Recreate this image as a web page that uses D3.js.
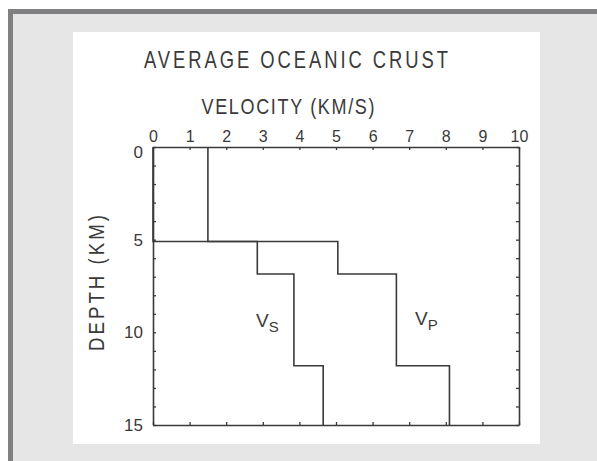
<!DOCTYPE html>
<html><head><meta charset="utf-8">
<script src="https://cdn.jsdelivr.net/npm/d3@7"></script>
<style>
html,body{margin:0;padding:0;background:#fff;}
svg{display:block;}
text{font-family:"Liberation Sans","DejaVu Sans",sans-serif;fill:#3a3a3a;}
</style></head>
<body>
<script>
// Data
const layerDepths = [0, 5.1, 6.85, 11.8, 15];      // km, layer boundaries
const vpValues = [1.5, 5.05, 6.65, 8.1];           // P-wave velocity (km/s)
const vsValues = [0, 2.85, 3.85, 4.65];            // S-wave velocity (km/s)
const velocityTicks = [0,1,2,3,4,5,6,7,8,9,10];
const depthTicks = d3.range(0, 16, 1);
const depthLabels = [0, 5, 10, 15];
const titleText = "AVERAGE OCEANIC CRUST";
const xLabelText = "VELOCITY (KM/S)";
const yLabelText = "DEPTH (KM)";

const W = 597, H = 461;
const svg = d3.select("body").append("svg").attr("width", W).attr("height", H);

// frame
svg.append("rect").attr("x",0).attr("y",0).attr("width",W).attr("height",H).attr("fill","#ffffff");
svg.append("rect").attr("x",8).attr("y",9).attr("width",W-8).attr("height",H-9).attr("fill","#808082");
svg.append("rect").attr("x",13).attr("y",14).attr("width",W-13).attr("height",H-14).attr("fill","#e5e6e5");
svg.append("rect").attr("x",73).attr("y",32).attr("width",467).attr("height",412).attr("fill","#ffffff");

const x = d3.scaleLinear().domain([0,10]).range([153,519]);
const y = d3.scaleLinear().domain([0,15]).range([147,425]);

const ink = "#3a3a3a";

// axes
const gTop = svg.append("g").attr("transform",`translate(0,${y(0)})`)
  .call(d3.axisTop(x).tickValues(velocityTicks).tickSizeInner(-3).tickSizeOuter(0).tickPadding(5).tickFormat(d3.format("d")));
const gBottom = svg.append("g").attr("transform",`translate(0,${y(15)})`)
  .call(d3.axisBottom(x).tickValues(velocityTicks).tickSizeInner(-3).tickSizeOuter(0).tickFormat(""));
const gLeft = svg.append("g").attr("transform",`translate(${x(0)},0)`)
  .call(d3.axisLeft(y).tickValues(depthTicks).tickSizeInner(-3).tickSizeOuter(0).tickPadding(10)
    .tickFormat(d => depthLabels.includes(d) ? d : ""));
const gRight = svg.append("g").attr("transform",`translate(${x(10)},0)`)
  .call(d3.axisRight(y).tickValues(depthTicks).tickSizeInner(-3).tickSizeOuter(0).tickFormat(""));

[gTop,gBottom,gLeft,gRight].forEach(g=>{
  g.selectAll("path.domain").attr("stroke",ink).attr("stroke-width",1.6);
  g.selectAll(".tick line").attr("stroke",ink).attr("stroke-width",1.3);
  g.selectAll(".tick text").attr("fill",ink).style("font-size","16px")
    .style("font-family",'"Liberation Sans","DejaVu Sans",sans-serif');
});
gLeft.selectAll(".tick text").style("font-size","17px");
gLeft.selectAll(".tick").filter(d=>d===0).select("text").attr("dy","0.6em");

// step profiles
function profile(vals){
  const pts = [];
  vals.forEach((v,i)=>{ pts.push([v, layerDepths[i]]); pts.push([v, layerDepths[i+1]]); });
  return pts;
}
const line = d3.line().x(d=>x(d[0])).y(d=>y(d[1]));
[vsValues, vpValues].forEach(vals=>{
  svg.append("path").attr("d", line(profile(vals)))
    .attr("fill","none").attr("stroke",ink).attr("stroke-width",1.6);
});

// labels (horizontally condensed lettering)
svg.append("text").attr("transform","translate(296,68) scale(0.8,1)").attr("text-anchor","middle")
  .attr("textLength",380).attr("lengthAdjust","spacing")
  .style("font-size","23px").text(titleText);
svg.append("text").attr("transform","translate(288,114) scale(0.82,1)").attr("text-anchor","middle")
  .attr("textLength",211).attr("lengthAdjust","spacing")
  .style("font-size","22px").text(xLabelText);
svg.append("text").attr("transform","translate(104,283) rotate(-90) scale(0.85,1)").attr("text-anchor","middle")
  .attr("textLength",160).attr("lengthAdjust","spacing")
  .style("font-size","22px").text(yLabelText);

function vlabel(cx, cy, sub){
  const t = svg.append("text").attr("x",cx).attr("y",cy).style("font-size","19px");
  t.append("tspan").text("V");
  t.append("tspan").attr("dy",5).style("font-size","15px").text(sub);
}
vlabel(256, 327, "S");
vlabel(415, 325, "P");
</script>
</body></html>
